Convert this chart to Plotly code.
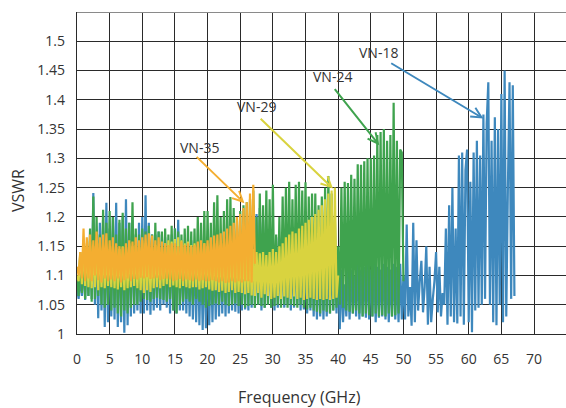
import plotly.graph_objects as go

# Frequency sweep step (GHz) shared by all series
STEP = 0.25

# VN-18 (blue), 0 .. 67 GHz
vn18 = [
    1.08, 1.06, 1.10, 1.065,   1.12, 1.058, 1.15, 1.065,   1.16, 1.06, 1.241, 1.05,
    1.17, 1.027, 1.19, 1.04,   1.20, 1.012, 1.224, 1.02,   1.18, 1.03, 1.20, 1.025,
    1.224, 1.012, 1.19, 1.02,  1.20, 1.002, 1.23, 1.015,   1.19, 1.03, 1.20, 1.035,
    1.17, 1.04, 1.19, 1.035,   1.20, 1.035, 1.237, 1.04,   1.19, 1.033, 1.17, 1.04,
    1.17, 1.045, 1.175, 1.04,  1.17, 1.05, 1.165, 1.045,   1.16, 1.035, 1.17, 1.04,
    1.18, 1.035, 1.195, 1.04,  1.16, 1.04, 1.155, 1.035,   1.15, 1.03, 1.16, 1.025,
    1.155, 1.02, 1.16, 1.015,  1.15, 1.007, 1.155, 1.01,   1.16, 1.015, 1.15, 1.02,
    1.155, 1.025, 1.16, 1.03,  1.15, 1.035, 1.155, 1.03,   1.16, 1.035, 1.15, 1.04,
    1.155, 1.038, 1.16, 1.035, 1.17, 1.04, 1.16, 1.042,    1.18, 1.04, 1.19, 1.045,
    1.22, 1.045, 1.205, 1.05,  1.215, 1.04, 1.195, 1.045,  1.18, 1.05, 1.175, 1.045,
    1.16, 1.04, 1.165, 1.045,  1.16, 1.05, 1.15, 1.045,    1.15, 1.05, 1.155, 1.04,
    1.14, 1.045, 1.15, 1.05,   1.145, 1.04, 1.14, 1.042,   1.14, 1.035, 1.145, 1.04,
    1.14, 1.03, 1.135, 1.025,  1.13, 1.03, 1.14, 1.025,    1.135, 1.03, 1.13, 1.035,
    1.13, 1.04, 1.12, 1.035,   1.13, 1.008, 1.11, 1.02,    1.085, 1.03, 1.12, 1.025,
    1.11, 1.035, 1.10, 1.03,   1.12, 1.025, 1.11, 1.03,    1.115, 1.028, 1.12, 1.025,
    1.11, 1.03, 1.12, 1.02,    1.115, 1.028, 1.11, 1.03,   1.12, 1.025, 1.115, 1.02,
    1.11, 1.03, 1.12, 1.025,   1.115, 1.02, 1.12, 1.025,
    1.10, 1.025, 1.187, 1.03,  1.08, 1.014, 1.19, 1.02,    1.16, 1.04, 1.09, 1.125,
    1.037, 1.08, 1.15, 1.016,  1.115, 1.02, 1.06, 1.09,    1.14, 1.037, 1.115, 1.03,
    1.07, 1.05, 1.18, 1.016,   1.22, 1.03, 1.25, 1.02,     1.18, 1.018, 1.305, 1.03,
    1.31, 1.016, 1.28, 1.315,  1.02, 1.26, 1.003, 1.31,    1.04, 1.33, 1.045, 1.305,
    1.05, 1.375, 1.06, 1.36,   1.43, 1.05, 1.33, 1.02,     1.37, 1.015, 1.35, 1.05,
    1.41, 1.02, 1.45, 1.03,    1.25, 1.43, 1.06, 1.425,    1.065,
]

# VN-24 (green), 0 .. 50 GHz
vn24 = [
    1.10, 1.065, 1.14, 1.07,   1.16, 1.06, 1.15, 1.065,    1.18, 1.055, 1.235, 1.06,
    1.20, 1.065, 1.17, 1.05,   1.212, 1.045, 1.19, 1.05,   1.21, 1.04, 1.20, 1.045,
    1.17, 1.035, 1.195, 1.03,  1.207, 1.04, 1.18, 1.035,   1.19, 1.045, 1.225, 1.05,
    1.18, 1.05, 1.17, 1.055,   1.18, 1.06, 1.175, 1.058,   1.185, 1.055, 1.17, 1.06,
    1.19, 1.062, 1.175, 1.06,  1.175, 1.058, 1.18, 1.055,  1.17, 1.06, 1.185, 1.04,
    1.18, 1.035, 1.175, 1.05,  1.17, 1.055, 1.18, 1.06,    1.185, 1.055, 1.175, 1.05,
    1.18, 1.06, 1.20, 1.055,   1.19, 1.05, 1.21, 1.045,    1.21, 1.048, 1.19, 1.05,
    1.225, 1.052, 1.237, 1.05, 1.20, 1.055, 1.21, 1.05,    1.23, 1.048, 1.234, 1.05,
    1.215, 1.052, 1.20, 1.048, 1.21, 1.05, 1.22, 1.045,    1.225, 1.048, 1.23, 1.05,
    1.245, 1.045, 1.20, 1.05,  1.24, 1.048, 1.22, 1.045,   1.245, 1.05, 1.23, 1.045,
    1.255, 1.048, 1.17, 1.05,  1.20, 1.045, 1.235, 1.05,   1.25, 1.045, 1.26, 1.05,
    1.23, 1.048, 1.255, 1.045, 1.26, 1.05, 1.245, 1.045,   1.259, 1.042, 1.235, 1.045,
    1.24, 1.04, 1.24, 1.038,   1.22, 1.035, 1.235, 1.04,   1.25, 1.038, 1.27, 1.035,
    1.24, 1.04, 1.20, 1.045,   1.15, 1.05, 1.25, 1.045,    1.26, 1.04, 1.258, 1.038,
    1.272, 1.035, 1.265, 1.04, 1.29, 1.035, 1.289, 1.03,   1.295, 1.035, 1.30, 1.032,
    1.30, 1.03, 1.305, 1.035,  1.34, 1.03, 1.345, 1.032,   1.35, 1.03, 1.33, 1.035,
    1.34, 1.03, 1.395, 1.032,  1.33, 1.035, 1.315, 1.31,   1.09,
]

# VN-29 (yellow), 0 .. 40 GHz
vn29 = [
    1.10, 1.09, 1.14, 1.085,   1.16, 1.082, 1.155, 1.08,   1.158, 1.078, 1.15, 1.08,
    1.16, 1.075, 1.155, 1.08,  1.15, 1.078, 1.148, 1.082,  1.145, 1.08, 1.15, 1.078,
    1.148, 1.076, 1.145, 1.08, 1.15, 1.075, 1.148, 1.078,  1.155, 1.08, 1.15, 1.082,
    1.152, 1.078, 1.158, 1.075, 1.16, 1.07, 1.155, 1.075,  1.15, 1.072, 1.148, 1.078,
    1.152, 1.08, 1.15, 1.078,  1.148, 1.082, 1.155, 1.085, 1.16, 1.08, 1.158, 1.083,
    1.162, 1.08, 1.165, 1.078, 1.16, 1.082, 1.155, 1.08,   1.158, 1.078, 1.152, 1.08,
    1.155, 1.08, 1.15, 1.076,  1.152, 1.078, 1.155, 1.08,  1.15, 1.076, 1.155, 1.074,
    1.155, 1.075, 1.15, 1.072, 1.152, 1.074, 1.155, 1.07,  1.15, 1.072, 1.148, 1.075,
    1.15, 1.07, 1.152, 1.072,  1.148, 1.07, 1.15, 1.068,   1.145, 1.07, 1.15, 1.066,
    1.145, 1.065, 1.14, 1.07,  1.138, 1.062, 1.14, 1.068,  1.135, 1.065, 1.14, 1.06,
    1.145, 1.062, 1.14, 1.065, 1.15, 1.06, 1.155, 1.064,   1.165, 1.062, 1.17, 1.06,
    1.175, 1.064, 1.172, 1.06, 1.18, 1.062, 1.185, 1.058,  1.19, 1.06, 1.195, 1.062,
    1.20, 1.06, 1.205, 1.058,  1.212, 1.06, 1.22, 1.058,   1.23, 1.06, 1.24, 1.058,
    1.245, 1.06, 1.25, 1.062,  1.10,
]

# VN-35 (orange), 0 .. 27.25 GHz
vn35 = [
    1.115, 1.10, 1.14, 1.095,  1.18, 1.09, 1.165, 1.095,   1.17, 1.09, 1.16, 1.10,
    1.175, 1.092, 1.165, 1.088, 1.17, 1.095, 1.172, 1.09,  1.16, 1.093, 1.165, 1.09,
    1.155, 1.095, 1.15, 1.088, 1.148, 1.092, 1.155, 1.095, 1.16, 1.09, 1.158, 1.094,
    1.165, 1.093, 1.16, 1.096, 1.165, 1.095, 1.17, 1.097,  1.172, 1.094, 1.168, 1.095,
    1.16, 1.096, 1.165, 1.092, 1.158, 1.094, 1.155, 1.095, 1.152, 1.093, 1.155, 1.09,
    1.155, 1.092, 1.15, 1.094, 1.158, 1.09, 1.152, 1.093,  1.155, 1.092, 1.15, 1.09,
    1.152, 1.093, 1.158, 1.09, 1.16, 1.092, 1.155, 1.09,   1.16, 1.09, 1.165, 1.092,
    1.168, 1.09, 1.17, 1.088,  1.172, 1.09, 1.175, 1.087,  1.18, 1.088, 1.185, 1.09,
    1.19, 1.088, 1.20, 1.09,   1.205, 1.088, 1.215, 1.09,  1.225, 1.09, 1.24, 1.088,
    1.255, 1.12,
]

series_names = ["VN-18", "VN-24", "VN-29", "VN-35"]
series_values = [vn18, vn24, vn29, vn35]
series_colors = ["#3e88bd", "#3fa34e", "#d9d33f", "#f4ae31"]

x_ticks = list(range(0, 75, 5))
y_ticks = [1, 1.05, 1.1, 1.15, 1.2, 1.25, 1.3, 1.35, 1.4, 1.45, 1.5]
y_labels = ["1", "1.05", "1.1", "1.15", "1.2", "1.25", "1.3", "1.35", "1.4", "1.45", "1.5"]

FONT = "Open Sans"
TXT = "#333333"
GRID = "#2a2a2a"

fig = go.Figure()
for name, vals, col in zip(series_names, series_values, series_colors):
    fig.add_trace(go.Scatter(
        x=[i * STEP for i in range(len(vals))], y=vals, mode="lines", name=name,
        line=dict(color=col, width=2.2), showlegend=False,
    ))

# label text positions and arrow (tail -> tip) positions in data units
labels = [
    ("VN-35", (18.8, 1.318), (18.1, 1.305), (25.65, 1.2235), "#f4ae31"),
    ("VN-29", (27.5, 1.388), (27.9, 1.370), (39.2, 1.2486), "#d9d33f"),
    ("VN-24", (39.1, 1.440), (39.3, 1.421), (46.3, 1.3225), "#3fa34e"),
    ("VN-18", (46.2, 1.481), (47.9, 1.464), (62.25, 1.368), "#3e88bd"),
]
for text, (tx, ty), (ax, ay), (hx, hy), col in labels:
    fig.add_annotation(x=hx, y=hy, ax=ax, ay=ay, axref="x", ayref="y",
                       xref="x", yref="y", text="", showarrow=True,
                       arrowhead=5, arrowsize=1, arrowwidth=2, arrowcolor=col)
    fig.add_annotation(x=tx, y=ty, xref="x", yref="y", text=text, showarrow=False,
                       font=dict(family=FONT, size=14, color=TXT))

fig.add_annotation(x=0.455, y=-0.195, xref="paper", yref="paper", text="Frequency (GHz)",
                   showarrow=False, font=dict(family=FONT, size=16, color=TXT),
                   xanchor="center", yanchor="middle")
fig.add_annotation(x=-0.122, y=0.445, xref="paper", yref="paper", text="VSWR",
                   showarrow=False, textangle=-90, font=dict(family=FONT, size=16, color=TXT),
                   xanchor="center", yanchor="middle")

# top boundary line
fig.add_shape(type="line", xref="paper", yref="y", x0=0, x1=1, y0=1.55, y1=1.55,
              line=dict(color="#8a8a8a", width=2))

fig.update_layout(
    width=566, height=408,
    margin=dict(l=77, r=0, t=12, b=74),
    paper_bgcolor="white", plot_bgcolor="white",
    font=dict(family=FONT, size=14, color=TXT),
    xaxis=dict(range=[0, 74.9], tickvals=x_ticks, ticktext=[str(v) for v in x_ticks],
               showgrid=True, gridcolor=GRID, gridwidth=1.4, zeroline=False,
               showline=True, linecolor=GRID, linewidth=1.4, ticks="", automargin=False,
               ticklabelstandoff=12, tickfont=dict(family=FONT, size=14, color=TXT)),
    yaxis=dict(range=[1, 1.55], tickvals=y_ticks, ticktext=y_labels,
               showgrid=True, gridcolor=GRID, gridwidth=1.4, zeroline=False,
               showline=True, linecolor=GRID, linewidth=1.4, ticks="", automargin=False,
               ticklabelstandoff=8, tickfont=dict(family=FONT, size=14, color=TXT)),
)

fig.write_html(
    "out.html",
    config={"displayModeBar": False},
    post_script="document.body.style.margin='0px';document.body.style.padding='0px';"
                "document.body.style.overflow='hidden';",
)
